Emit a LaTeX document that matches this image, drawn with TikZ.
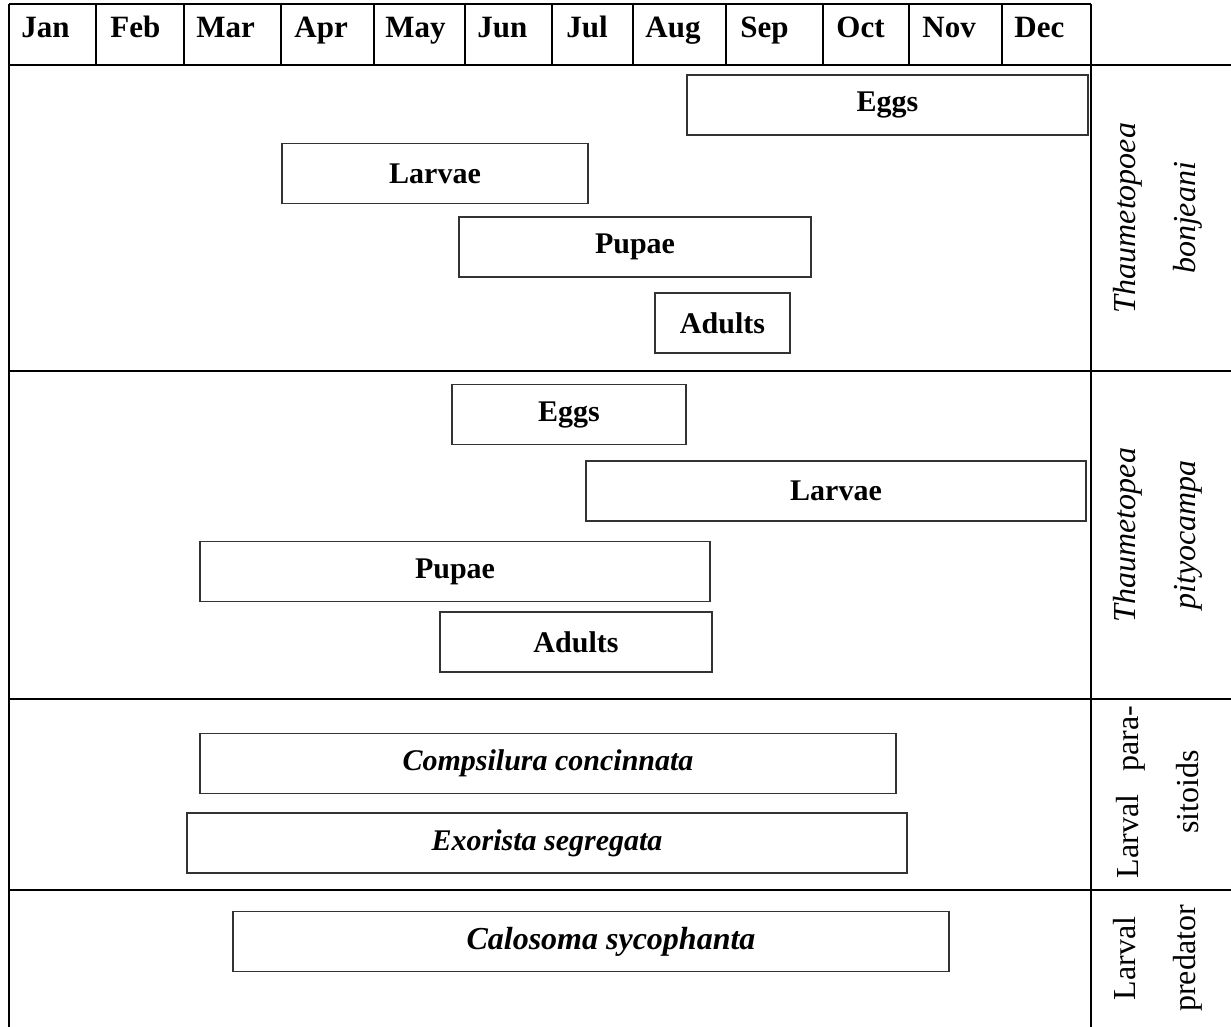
\documentclass[tikz,border=0pt]{standalone}
\usepackage{fontspec}
\setmainfont{Liberation Serif}
\usepackage{tikz}

\begin{document}
\begin{tikzpicture}[
    x=0.5pt, y=-0.5pt,
    grid/.style={line width=1.25pt, black},
    month/.style={anchor=base west, inner sep=0pt, font=\fontsize{15.5}{18}\selectfont\bfseries},
    bar/.style={
        rectangle,
        minimum height=30pt,
        draw=black!80, line width=0.75pt,
        align=center,
        font=\fontsize{15}{18}\selectfont\bfseries
    },
    species/.style={
        rotate=90, align=center, inner sep=0pt,
        font=\fontsize{16}{30}\selectfont
    }
]
\useasboundingbox (0,0) rectangle (1231,1027);

% --- Khung bảng ---
\draw[grid] (9,4) -- (1091,4);
\draw[grid] (9,4) -- (9,1027);
\draw[grid] (1091,4) -- (1091,1027);
\draw[grid] (9,65) -- (1231,65);
\draw[grid] (9,371) -- (1231,371);
\draw[grid] (9,699) -- (1231,699);
\draw[grid] (9,890) -- (1231,890);

% --- Cột tháng ---
\draw[grid] (96,4) -- (96,65);
\draw[grid] (184,4) -- (184,65);
\draw[grid] (281,4) -- (281,65);
\draw[grid] (374,4) -- (374,65);
\draw[grid] (465,4) -- (465,65);
\draw[grid] (552,4) -- (552,65);
\draw[grid] (633,4) -- (633,65);
\draw[grid] (726,4) -- (726,65);
\draw[grid] (823,4) -- (823,65);
\draw[grid] (909,4) -- (909,65);
\draw[grid] (1002,4) -- (1002,65);

\node[month] (mJan) at (21,38) {Jan};
\node[month] (mFeb) at (110,38) {Feb};
\node[month] (mMar) at (196,38) {Mar};
\node[month] (mApr) at (294,38) {Apr};
\node[month] (mMay) at (385,38) {May};
\node[month] (mJun) at (477,38) {Jun};
\node[month] (mJul) at (566,38) {Jul};
\node[month] (mAug) at (645,38) {Aug};
\node[month] (mSep) at (740,38) {Sep};
\node[month] (mOct) at (836,38) {Oct};
\node[month] (mNov) at (922,38) {Nov};
\node[month] (mDec) at (1014,38) {Dec};

% --- Thaumetopoea bonjeani ---
\node[bar, minimum width=200.5pt] (tbEggs) at (887.5,105) {Eggs};
\node[bar, minimum width=153pt] (tbLarvae) at (435,173.5) {Larvae};
\node[bar, minimum width=176pt] (tbPupae) at (635,247) {Pupae};
\node[bar, minimum width=67.5pt] (tbAdults) at (722.5,323) {Adults};
\node[species] (tbName) at (1158,218) {\itshape Thaumetopoea\\\itshape bonjeani};

% --- Thaumetopoea pityocampa ---
\node[bar, minimum width=117pt] (tpEggs) at (569,414.5) {Eggs};
\node[bar, minimum width=250pt] (tpLarvae) at (836,491) {Larvae};
\node[bar, minimum width=255pt] (tpPupae) at (455,571.5) {Pupae};
\node[bar, minimum width=136pt] (tpAdults) at (576,642) {Adults};
\node[species] (tpName) at (1158,535) {\itshape Thaumetopea\\\itshape pityocampa};

% --- Larval parasitoids ---
\node[bar, minimum width=348pt] (compsilura) at (548,763.5) {\itshape Compsilura concinnata};
\node[bar, minimum width=360pt] (exorista) at (547,843) {\itshape Exorista segregata};
\node[species] (parasitoids) at (1158,792) {\makebox[86pt][s]{Larval\hfill para-}\\sitoids};

% --- Larval predator ---
\node[bar, minimum width=358pt, font=\fontsize{16}{19}\selectfont\bfseries] (calosoma) at (591,941.5) {\hspace*{20pt}\itshape Calosoma sycophanta};
\node[species] (predator) at (1158,958.5) {Larval\\predator};

\end{tikzpicture}
\end{document}
